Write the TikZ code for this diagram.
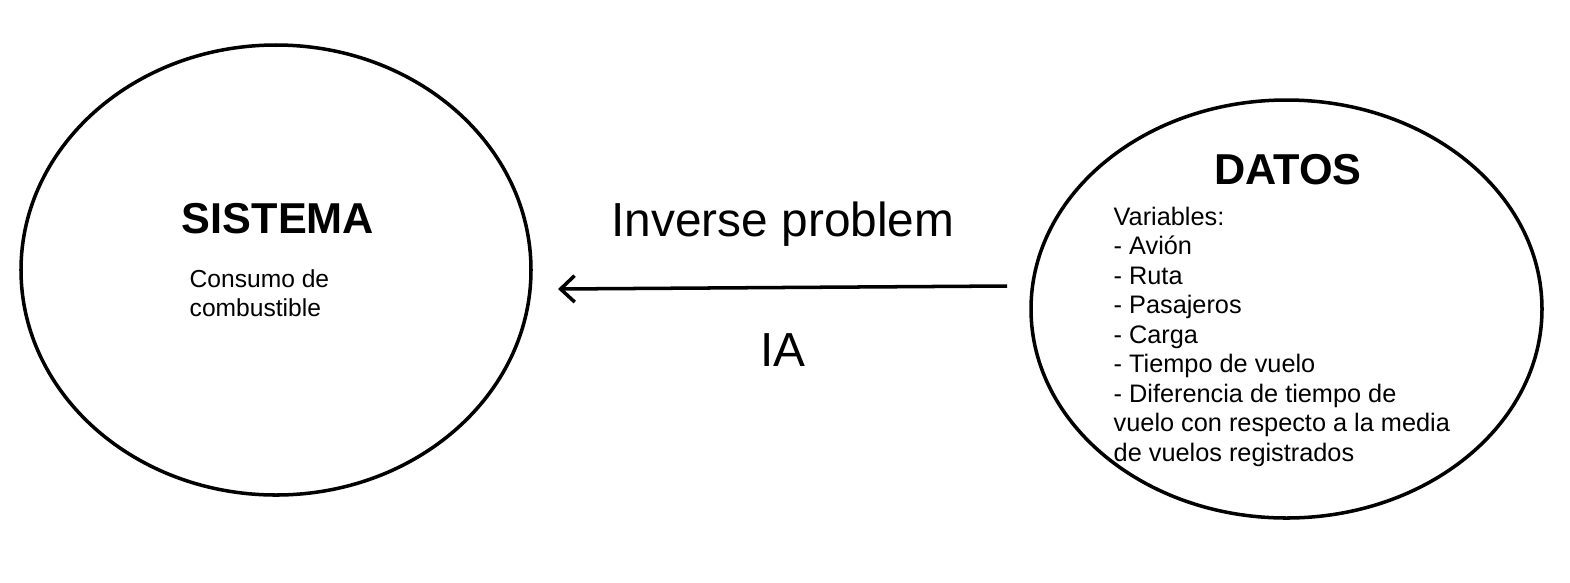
\documentclass[tikz,border=0pt]{standalone}
\usepackage{fontspec}
\setmainfont{Liberation Sans}
\usetikzlibrary{arrows.meta}
\tikzset{
  title/.style={font=\fontsize{12.3}{14}\selectfont\bfseries, inner sep=0pt},
  small/.style={font=\fontsize{7.0}{8.3}\selectfont, align=left, inner sep=0pt},
  list/.style={font=\fontsize{7.2}{8.4}\selectfont, align=left, inner sep=0pt},
  big/.style={font=\fontsize{13.6}{16}\selectfont, inner sep=0pt}
}
\begin{document}
\begin{tikzpicture}
\useasboundingbox (0 cm,0 cm) rectangle (15.70 cm,5.82 cm);
\draw[line width=1pt] (2.76 cm,3.12 cm) ellipse (2.55 cm and 2.25 cm);
\draw[line width=1pt] (12.865 cm,2.73 cm) ellipse (2.555 cm and 2.09 cm);
\node[title] (sistema) at (2.78 cm,3.63 cm) {SISTEMA};
\node[small, anchor=north west] (consumo) at (1.89 cm,3.13 cm) {Consumo de\\combustible};
\node[title] (datos) at (12.88 cm,4.12 cm) {DATOS};
\node[list, anchor=north west] (variables) at (11.13 cm,3.76 cm) {Variables:\\- Avi\'on\\- Ruta\\- Pasajeros\\- Carga\\- Tiempo de vuelo\\- Diferencia de tiempo de\\vuelo con respecto a la media\\de vuelos registrados};
\coordinate (start) at (10.07 cm,2.96 cm);
\coordinate (end) at (5.58 cm,2.93 cm);
\draw[line width=1pt, -{Straight Barb[length=4pt,width=7.5pt]}] (start) -- (end);
\node[big] (inverse) at (7.83 cm,3.58 cm) {Inverse problem};
\node[big] (ia) at (7.83 cm,2.32 cm) {IA};
\end{tikzpicture}
\end{document}
